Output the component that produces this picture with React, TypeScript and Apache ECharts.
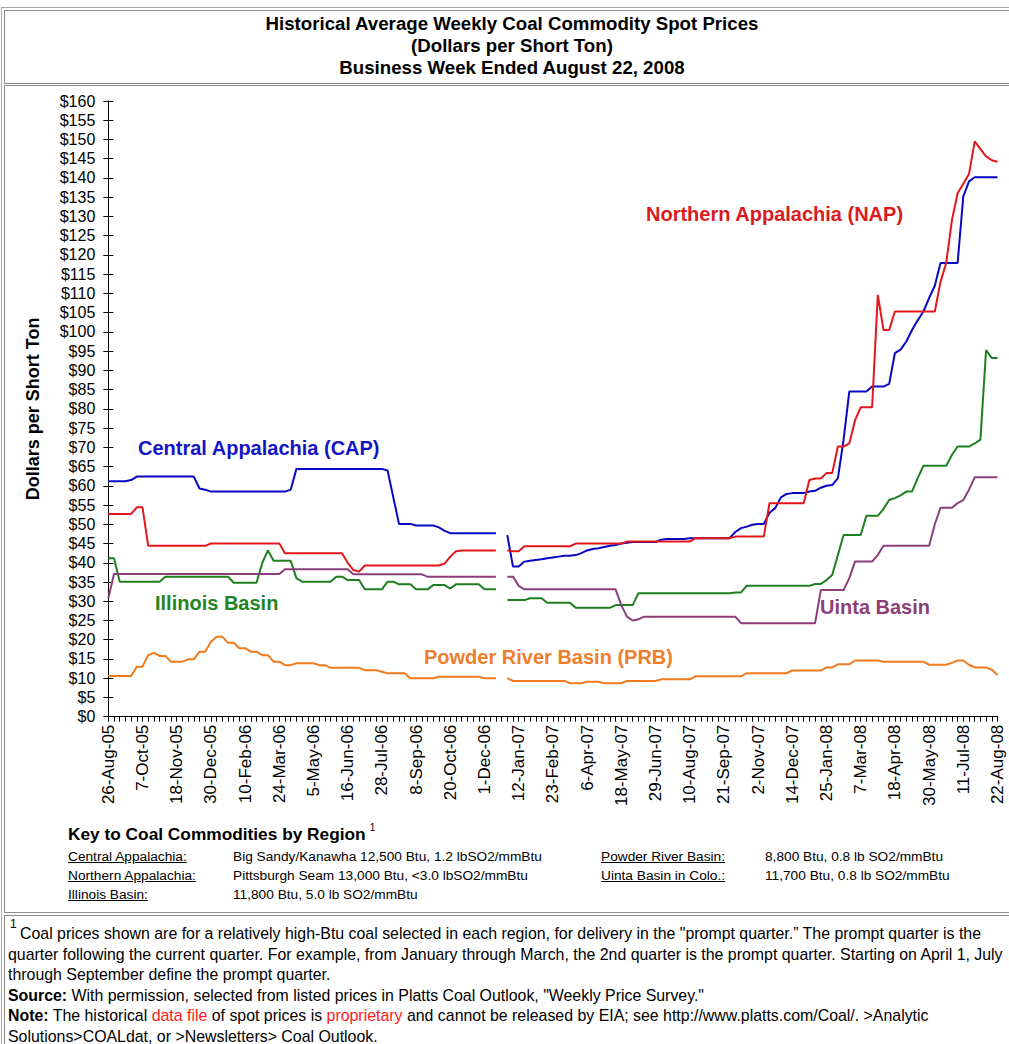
import React, { useEffect, useRef } from "react";
import * as echarts from "echarts";

const FONT = '"Liberation Sans", Arial, Helvetica, sans-serif';

const tickLabels = [
  "26-Aug-05", "7-Oct-05", "18-Nov-05", "30-Dec-05", "10-Feb-06", "24-Mar-06", "5-May-06",
  "16-Jun-06", "28-Jul-06", "8-Sep-06", "20-Oct-06", "1-Dec-06", "12-Jan-07", "23-Feb-07",
  "6-Apr-07", "18-May-07", "29-Jun-07", "10-Aug-07", "21-Sep-07", "2-Nov-07", "14-Dec-07",
  "25-Jan-08", "7-Mar-08", "18-Apr-08", "30-May-08", "11-Jul-08", "22-Aug-08",
];

const yTicks = { min: 0, max: 160, interval: 5 };

const capValues = [
  61.2, 61.2, 61.2, 61.2, 61.5, 62.4, 62.4, 62.4, 62.4, 62.4,
  62.4, 62.4, 62.4, 62.4, 62.4, 62.4, 59.3, 59.0, 58.5, 58.5,
  58.5, 58.5, 58.5, 58.5, 58.5, 58.5, 58.5, 58.5, 58.5, 58.5,
  58.5, 58.5, 59.0, 64.4, 64.4, 64.4, 64.4, 64.4, 64.4, 64.4,
  64.4, 64.4, 64.4, 64.4, 64.4, 64.4, 64.4, 64.4, 64.4, 64.0,
  57.0, 50.1, 50.1, 50.1, 49.7, 49.7, 49.7, 49.7, 49.2, 48.3,
  47.7, 47.7, 47.7, 47.7, 47.7, 47.7, 47.7, 47.7, 47.7, null,
  47.2, 39.0, 39.0, 40.3, 40.5, 40.7, 40.9, 41.2, 41.4, 41.6,
  41.8, 41.8, 42.0, 42.5, 43.2, 43.6, 43.8, 44.1, 44.4, 44.6,
  45.0, 45.2, 45.4, 45.4, 45.4, 45.4, 45.4, 46.0, 46.2, 46.2,
  46.2, 46.2, 46.4, 46.4, 46.4, 46.4, 46.4, 46.4, 46.4, 46.4,
  48.0, 49.0, 49.4, 49.9, 50.1, 50.1, 53.0, 54.2, 57.0, 57.9,
  58.1, 58.1, 58.1, 58.5, 58.7, 59.5, 60.0, 60.2, 62.0, 72.0,
  84.5, 84.5, 84.5, 84.5, 85.8, 85.8, 85.8, 86.5, 94.5, 95.4,
  97.5, 100.5, 103.0, 105.3, 108.8, 112.0, 117.9, 117.9, 117.9, 117.9,
  135.2, 139.1, 140.2, 140.2, 140.2, 140.2, 140.2,
];

const napValues = [
  52.7, 52.7, 52.7, 52.7, 52.7, 54.4, 54.4, 44.4, 44.4, 44.4,
  44.4, 44.4, 44.4, 44.4, 44.4, 44.4, 44.4, 44.4, 45.0, 45.0,
  45.0, 45.0, 45.0, 45.0, 45.0, 45.0, 45.0, 45.0, 45.0, 45.0,
  45.0, 42.5, 42.5, 42.5, 42.5, 42.5, 42.5, 42.5, 42.5, 42.5,
  42.5, 42.5, 40.0, 38.1, 37.7, 39.3, 39.3, 39.3, 39.3, 39.3,
  39.3, 39.3, 39.3, 39.3, 39.3, 39.3, 39.3, 39.3, 39.3, 39.8,
  41.6, 43.0, 43.2, 43.2, 43.2, 43.2, 43.2, 43.2, 43.2, null,
  43.2, 43.0, 43.0, 44.3, 44.3, 44.3, 44.3, 44.3, 44.3, 44.3,
  44.3, 44.3, 45.0, 45.0, 45.0, 45.0, 45.0, 45.0, 45.0, 45.0,
  45.0, 45.5, 45.5, 45.5, 45.5, 45.5, 45.5, 45.5, 45.5, 45.5,
  45.5, 45.5, 45.5, 46.4, 46.4, 46.4, 46.4, 46.4, 46.4, 46.4,
  46.8, 46.8, 46.8, 46.8, 46.8, 46.8, 55.5, 55.5, 55.5, 55.5,
  55.5, 55.5, 55.5, 61.5, 61.9, 61.9, 63.3, 63.3, 70.2, 70.2,
  71.0, 77.0, 80.4, 80.4, 80.4, 109.6, 100.5, 100.5, 105.3, 105.3,
  105.3, 105.3, 105.3, 105.3, 105.3, 105.3, 113.0, 117.9, 129.0, 136.0,
  138.5, 141.0, 149.5, 147.5, 145.6, 144.6, 144.2,
];

const illinoisValues = [
  41.2, 41.2, 35.1, 35.1, 35.1, 35.1, 35.1, 35.1, 35.1, 35.1,
  36.4, 36.4, 36.4, 36.4, 36.4, 36.4, 36.4, 36.4, 36.4, 36.4,
  36.4, 36.4, 34.8, 34.8, 34.8, 34.8, 34.8, 39.9, 43.2, 40.5,
  40.5, 40.5, 40.5, 36.0, 35.1, 35.1, 35.1, 35.1, 35.1, 35.1,
  36.4, 36.4, 35.5, 35.5, 35.5, 33.1, 33.1, 33.1, 33.1, 35.1,
  35.1, 34.4, 34.4, 34.4, 33.1, 33.1, 33.1, 34.2, 34.2, 34.2,
  33.3, 34.4, 34.4, 34.4, 34.4, 34.4, 33.1, 33.1, 33.1, null,
  30.3, 30.3, 30.3, 30.3, 30.8, 30.8, 30.8, 29.6, 29.6, 29.6,
  29.6, 29.6, 28.3, 28.3, 28.3, 28.3, 28.3, 28.3, 28.3, 29.0,
  29.0, 29.0, 29.0, 32.1, 32.1, 32.1, 32.1, 32.1, 32.1, 32.1,
  32.1, 32.1, 32.1, 32.1, 32.1, 32.1, 32.1, 32.1, 32.1, 32.1,
  32.3, 32.3, 34.0, 34.0, 34.0, 34.0, 34.0, 34.0, 34.0, 34.0,
  34.0, 34.0, 34.0, 34.0, 34.5, 34.5, 35.5, 36.8, 42.0, 47.2,
  47.2, 47.2, 47.2, 52.2, 52.2, 52.2, 54.0, 56.3, 56.8, 57.5,
  58.5, 58.5, 62.0, 65.2, 65.2, 65.2, 65.2, 65.2, 68.0, 70.2,
  70.2, 70.2, 71.0, 72.0, 95.3, 93.2, 93.2,
];

const uintaValues = [
  30.8, 37.1, 37.1, 37.1, 37.1, 37.1, 37.1, 37.1, 37.1, 37.1,
  37.1, 37.1, 37.1, 37.1, 37.1, 37.1, 37.1, 37.1, 37.1, 37.1,
  37.1, 37.1, 37.1, 37.1, 37.1, 37.1, 37.1, 37.1, 37.1, 37.1,
  37.1, 38.3, 38.3, 38.3, 38.3, 38.3, 38.3, 38.3, 38.3, 38.3,
  38.3, 38.3, 38.3, 37.0, 37.0, 37.0, 37.0, 37.0, 37.0, 37.0,
  37.0, 37.0, 37.0, 37.0, 37.0, 37.0, 36.4, 36.4, 36.4, 36.4,
  36.4, 36.4, 36.4, 36.4, 36.4, 36.4, 36.4, 36.4, 36.4, null,
  36.4, 36.4, 34.0, 33.1, 33.1, 33.1, 33.1, 33.1, 33.1, 33.1,
  33.1, 33.1, 33.1, 33.1, 33.1, 33.1, 33.1, 33.1, 33.1, 33.1,
  29.0, 26.0, 25.0, 25.3, 26.0, 26.0, 26.0, 26.0, 26.0, 26.0,
  26.0, 26.0, 26.0, 26.0, 26.0, 26.0, 26.0, 26.0, 26.0, 26.0,
  26.0, 24.3, 24.3, 24.3, 24.3, 24.3, 24.3, 24.3, 24.3, 24.3,
  24.3, 24.3, 24.3, 24.3, 24.3, 32.9, 32.9, 32.9, 32.9, 32.9,
  36.0, 40.3, 40.3, 40.3, 40.3, 42.0, 44.4, 44.4, 44.4, 44.4,
  44.4, 44.4, 44.4, 44.4, 44.4, 50.0, 54.3, 54.3, 54.3, 55.5,
  56.3, 59.0, 62.2, 62.2, 62.2, 62.2, 62.2,
];

const prbValues = [
  10.6, 10.6, 10.6, 10.6, 10.6, 13.0, 13.0, 16.0, 16.6, 15.8,
  15.8, 14.3, 14.3, 14.3, 14.9, 14.9, 16.9, 16.9, 19.5, 20.8,
  20.8, 19.2, 19.2, 17.8, 17.8, 16.9, 16.9, 16.0, 16.0, 14.3,
  14.3, 13.4, 13.4, 13.9, 13.9, 13.9, 13.9, 13.4, 13.4, 12.7,
  12.7, 12.7, 12.7, 12.7, 12.7, 12.1, 12.1, 12.1, 11.7, 11.3,
  11.3, 11.3, 11.3, 10.0, 10.0, 10.0, 10.0, 10.0, 10.4, 10.4,
  10.4, 10.4, 10.4, 10.4, 10.4, 10.4, 10.0, 10.0, 10.0, null,
  10.0, 9.3, 9.3, 9.3, 9.3, 9.3, 9.3, 9.3, 9.3, 9.3,
  9.3, 8.7, 8.7, 8.7, 9.1, 9.1, 9.1, 8.7, 8.7, 8.7,
  8.7, 9.3, 9.3, 9.3, 9.3, 9.3, 9.3, 9.7, 9.7, 9.7,
  9.7, 9.7, 9.7, 10.5, 10.5, 10.5, 10.5, 10.5, 10.5, 10.5,
  10.5, 10.5, 11.3, 11.3, 11.3, 11.3, 11.3, 11.3, 11.3, 11.3,
  12.0, 12.0, 12.0, 12.0, 12.0, 12.0, 12.8, 12.8, 13.6, 13.6,
  13.6, 14.6, 14.6, 14.6, 14.6, 14.6, 14.3, 14.3, 14.3, 14.3,
  14.3, 14.3, 14.3, 14.3, 13.5, 13.5, 13.5, 13.5, 14.0, 14.6,
  14.6, 13.5, 12.8, 12.8, 12.8, 12.2, 10.8,
];

const seriesNames = [
  "Central Appalachia (CAP)",
  "Northern Appalachia (NAP)",
  "Illinois Basin",
  "Uinta Basin",
  "Powder River Basin (PRB)",
];
const seriesColors = ["#0808c4", "#e3161c", "#1d7f1d", "#8a3f7c", "#f07a1c"];
const labelColors = ["#1414c4", "#dc1a1e", "#238423", "#8a3f76", "#ee7e2c"];

const MONTHS = ["Jan", "Feb", "Mar", "Apr", "May", "Jun", "Jul", "Aug", "Sep", "Oct", "Nov", "Dec"];

// Weekly business-week dates, starting with the first tick label (26-Aug-05)
function weeklyCategories(count: number): string[] {
  const out: string[] = [];
  const start = Date.UTC(2005, 7, 26);
  for (let i = 0; i < count; i++) {
    const d = new Date(start + i * 7 * 86400000);
    out.push(`${d.getUTCDate()}-${MONTHS[d.getUTCMonth()]}-${String(d.getUTCFullYear()).slice(2)}`);
  }
  return out;
}

const categories = weeklyCategories(capValues.length);

function Chart() {
  const ref = useRef<HTMLDivElement>(null);
  useEffect(() => {
    if (!ref.current) return;
    const chart = echarts.init(ref.current, undefined, { renderer: "svg" });
    const labelSet = new Set(tickLabels);
    const allValues = [capValues, napValues, illinoisValues, uintaValues, prbValues];
    const labelPos = [
      [138, 448],
      [646, 214],
      [155, 603],
      [820, 607],
      [424, 657],
    ];
    chart.setOption({
      animation: false,
      grid: { left: 108.3, right: 11.5, top: 101, bottom: 109.3, containLabel: false },
      xAxis: {
        type: "category",
        data: categories,
        boundaryGap: false,
        axisLine: { show: true, lineStyle: { color: "#000", width: 1 } },
        axisTick: { show: true, interval: 0, length: 5, lineStyle: { color: "#000", width: 1 } },
        axisLabel: {
          interval: 5,
          rotate: 90,
          margin: 8,
          fontSize: 17,
          color: "#000",
          fontFamily: FONT,
          formatter: (v: string) => (labelSet.has(v) ? v : v),
        },
        splitLine: { show: false },
      },
      yAxis: [
        {
          type: "value",
          position: "left",
          min: yTicks.min,
          max: yTicks.max,
          interval: yTicks.interval,
          name: "Dollars per Short Ton",
          nameLocation: "middle",
          nameGap: 66,
          nameRotate: 90,
          nameTextStyle: { fontSize: 18, fontWeight: "bold", color: "#000", fontFamily: FONT },
          axisLine: { show: true, lineStyle: { color: "#000", width: 1 } },
          axisTick: { show: true, length: 5, lineStyle: { color: "#000", width: 1 } },
          axisLabel: {
            margin: 13,
            fontSize: 16,
            color: "#000",
            fontFamily: FONT,
            formatter: (v: number) => "$" + v,
          },
          splitLine: { show: false },
        },
        {
          type: "value",
          position: "left",
          min: yTicks.min,
          max: yTicks.max,
          interval: yTicks.interval,
          axisLine: { show: false },
          axisTick: { show: true, inside: true, length: 5, lineStyle: { color: "#000", width: 1 } },
          axisLabel: { show: false },
          splitLine: { show: false },
        },
      ],
      series: allValues.map((vals, k) => ({
        name: seriesNames[k],
        type: "line",
        data: vals,
        yAxisIndex: 0,
        showSymbol: false,
        symbol: "none",
        connectNulls: false,
        lineStyle: { color: seriesColors[k], width: 2 },
        itemStyle: { color: seriesColors[k] },
        z: [3, 4, 2, 2, 2][k],
      })),
      graphic: seriesNames.map((name, k) => ({
        type: "text",
        x: labelPos[k][0],
        y: labelPos[k][1],
        style: {
          text: name,
          fill: labelColors[k],
          font: `bold 20px ${FONT}`,
          verticalAlign: "middle",
        },
        z: 10,
      })),
    });
    return () => chart.dispose();
  }, []);
  return (
    <div
      ref={ref}
      style={{ position: "absolute", left: 0, top: 0, width: 1009, height: 826 }}
    />
  );
}

const keyRows = [
  ["Central Appalachia:", "Big Sandy/Kanawha 12,500 Btu, 1.2 lbSO2/mmBtu", "Powder River Basin:", "8,800 Btu, 0.8 lb SO2/mmBtu"],
  ["Northern Appalachia:", "Pittsburgh Seam 13,000 Btu, <3.0 lbSO2/mmBtu", "Uinta Basin in Colo.:", "11,700 Btu, 0.8 lb SO2/mmBtu"],
  ["Illinois Basin:", "11,800 Btu, 5.0 lb SO2/mmBtu", "", ""],
];
const keyRowY = [848, 867, 886];

const abs = (l: number, t: number, extra: React.CSSProperties = {}): React.CSSProperties => ({
  position: "absolute",
  left: l,
  top: t,
  whiteSpace: "nowrap",
  ...extra,
});

export default function App() {
  const red = { color: "#ff1a1a" };
  const lineTop = (n: number) => 924 + n * 20.6;
  const fn: React.CSSProperties = { fontSize: 15.9, lineHeight: "20.6px" };
  const kr: React.CSSProperties = { fontSize: 13.7, lineHeight: "18px" };
  return (
    <div
      style={{
        position: "absolute",
        left: 0,
        top: 0,
        width: 1009,
        height: 1044,
        overflow: "hidden",
        background: "#fff",
        fontFamily: FONT,
        color: "#000",
      }}
    >
      {/* table borders */}
      <div style={abs(1, 7, { width: 1100, height: 1100, borderTop: "1px solid #a8a8a8", borderLeft: "1px solid #a8a8a8" })} />
      <div style={abs(4, 10, { width: 1100, height: 72, border: "1px solid #8c8c8c" })} />
      <div style={abs(4, 85, { width: 1100, height: 826, border: "1px solid #8c8c8c" })} />
      <div style={abs(4, 915, { width: 1100, height: 200, border: "1px solid #8c8c8c" })} />

      {/* title */}
      <div
        style={abs(3, 13, {
          width: 1018,
          textAlign: "center",
          fontWeight: "bold",
          fontSize: 18.67,
          lineHeight: "22px",
        })}
      >
        Historical Average Weekly Coal Commodity Spot Prices
        <br />
        (Dollars per Short Ton)
        <br />
        Business Week Ended August 22, 2008
      </div>

      <Chart />

      {/* key */}
      <div style={abs(68, 824, { fontSize: 17.3, fontWeight: "bold", lineHeight: "20px" })}>
        Key to Coal Commodities by Region
        <span style={{ fontSize: 10, fontWeight: "normal", position: "relative", top: -9, marginLeft: 4 }}>1</span>
      </div>
      {keyRows.map((r, k) => (
        <React.Fragment key={k}>
          <div style={abs(68, keyRowY[k], { ...kr, textDecoration: "underline" })}>{r[0]}</div>
          <div style={abs(233, keyRowY[k], kr)}>{r[1]}</div>
          {r[2] ? (
            <div style={abs(601, keyRowY[k], { ...kr, textDecoration: "underline" })}>{r[2]}</div>
          ) : null}
          {r[3] ? <div style={abs(765, keyRowY[k], kr)}>{r[3]}</div> : null}
        </React.Fragment>
      ))}

      {/* footnote */}
      <div style={abs(10, 917, { fontSize: 12, lineHeight: "14px" })}>1</div>
      <div style={abs(20, lineTop(0), fn)}>
        Coal prices shown are for a relatively high-Btu coal selected in each region, for delivery in the "prompt quarter.” The prompt quarter is the
      </div>
      <div style={abs(8, lineTop(1), fn)}>
        quarter following the current quarter. For example, from January through March, the 2nd quarter is the prompt quarter. Starting on April 1, July
      </div>
      <div style={abs(8, lineTop(2), fn)}>through September define the prompt quarter.</div>
      <div style={abs(8, lineTop(3), fn)}>
        <b>Source:</b> With permission, selected from listed prices in Platts Coal Outlook, "Weekly Price Survey."
      </div>
      <div style={abs(8, lineTop(4), fn)}>
        <b>Note:</b> The historical <span style={red}>data file</span> of spot prices is{" "}
        <span style={red}>proprietary</span> and cannot be released by EIA; see http://www.platts.com/Coal/. &gt;Analytic
      </div>
      <div style={abs(8, lineTop(5), fn)}>Solutions&gt;COALdat, or &gt;Newsletters&gt; Coal Outlook.</div>
    </div>
  );
}
